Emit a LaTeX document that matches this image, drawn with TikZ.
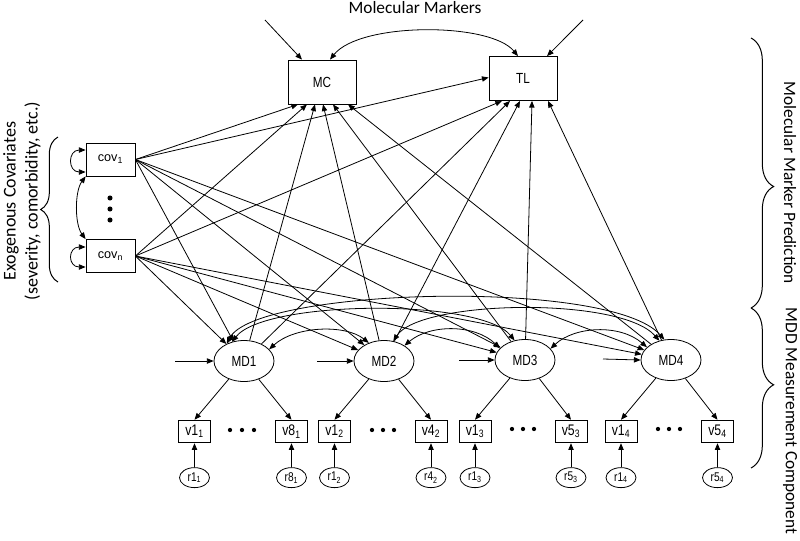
\documentclass[tikz,border=0pt]{standalone}
\usepackage{fontspec}
\setmainfont{Liberation Sans}
\newfontfamily\narrowfont[FakeStretch=0.8]{Liberation Sans}
\newfontfamily\calfont{Carlito}
\usetikzlibrary{arrows.meta,positioning,calc,shapes.geometric,decorations.pathreplacing}

\begin{document}
\begin{tikzpicture}[x=0.75pt,y=-0.75pt,line width=0.6pt,>={Triangle[length=5pt,width=4pt]},
 markerbox/.style={draw,minimum width=51pt,minimum height=33pt,font=\narrowfont\fontsize{11}{13}\selectfont},
 covbox/.style={draw,minimum width=36.75pt,minimum height=24.75pt,font=\fontsize{9.5}{11}\selectfont},
 mdnode/.style={draw,ellipse,inner sep=0pt,minimum width=45pt,minimum height=30.75pt,font=\narrowfont\fontsize{11}{13}\selectfont},
 itembox/.style={draw,inner sep=1pt,minimum width=24pt,minimum height=17pt,font=\narrowfont\fontsize{11.5}{13}\selectfont},
 errnode/.style={draw,ellipse,inner sep=0pt,minimum width=22.5pt,minimum height=15pt,font=\narrowfont\fontsize{9.5}{10}\selectfont},
 sidelabel/.style={font=\calfont\fontsize{13}{16.5}\selectfont,align=center},
 brace/.style={decorate,decoration={brace,amplitude=#1},line width=0.75pt}]
\useasboundingbox (0,0) rectangle (800,540);

% markers
\node[markerbox] (MC) at (322,82) {MC};
\node[markerbox] (TL) at (523,78.5) {TL};
\node[sidelabel] (title) at (415,8) {Molecular Markers};

% covariates
\node[covbox] (cov1) at (110.5,159.5) {cov\textsubscript{1}};
\node[covbox] (covn) at (110.5,256) {cov\textsubscript{n}};
\fill (110,198) circle[radius=1.9pt] (110,209) circle[radius=1.9pt] (110,220) circle[radius=1.9pt];

% MDD factors
\node[mdnode] (MD1) at (244,361) {MD1};
\node[mdnode] (MD2) at (384,361) {MD2};
\node[mdnode] (MD3) at (525,360) {MD3};
\node[mdnode] (MD4) at (671,360) {MD4};

% items and residuals
\node[itembox] (v11) at (194.5,431.5) {v1\textsubscript{1}};
\node[itembox] (v81) at (291.5,431.5) {v8\textsubscript{1}};
\node[itembox] (v12) at (334.5,431.5) {v1\textsubscript{2}};
\node[itembox] (v42) at (431,431.5) {v4\textsubscript{2}};
\node[itembox] (v13) at (475,431.5) {v1\textsubscript{3}};
\node[itembox] (v53) at (571,431.5) {v5\textsubscript{3}};
\node[itembox] (v14) at (621,431.5) {v1\textsubscript{4}};
\node[itembox] (v54) at (717.5,431.5) {v5\textsubscript{4}};
\node[errnode,below=18pt of v11] (r11) {r1\textsubscript{1}};
\node[errnode,below=18pt of v81] (r81) {r8\textsubscript{1}};
\node[errnode,below=18pt of v12] (r12) {r1\textsubscript{2}};
\node[errnode,below=18pt of v42] (r42) {r4\textsubscript{2}};
\node[errnode,below=18pt of v13] (r13) {r1\textsubscript{3}};
\node[errnode,below=18pt of v53] (r53) {r5\textsubscript{3}};
\node[errnode,below=18pt of v14] (r14) {r1\textsubscript{4}};
\node[errnode,below=18pt of v54] (r54) {r5\textsubscript{4}};
\fill (230,430) circle[radius=1.6pt] (242,430) circle[radius=1.6pt] (254,430) circle[radius=1.6pt];
\fill (372,430) circle[radius=1.6pt] (383,430) circle[radius=1.6pt] (394,430) circle[radius=1.6pt];
\fill (512,429) circle[radius=1.6pt] (523,429) circle[radius=1.6pt] (534,429) circle[radius=1.6pt];
\fill (658,429) circle[radius=1.6pt] (669,429) circle[radius=1.6pt] (680,429) circle[radius=1.6pt];

% side labels and braces
\node[sidelabel,rotate=90,font=\calfont\fontsize{13.5}{16.5}\selectfont] (exo) at (22,201) {Exogenous Covariates\\(severity, comorbidity, etc.)};
\node[sidelabel,rotate=-90] (mmp) at (790,183) {Molecular Marker Prediction};
\node[sidelabel,rotate=-90] (mdd) at (790,421) {MDD Measurement Component};
\draw[brace=13pt] (58,282) -- (58,137);
\draw[brace=17pt,decoration={aspect=0.55}] (751,38) -- (751,308);
\draw[brace=17pt,decoration={aspect=0.48}] (751,308) -- (751,468);

% disturbances
\coordinate (mcsrc) at (265,20);
\coordinate (tlsrc) at (583,20);
\coordinate (d1) at (175,361);
\coordinate (d2) at (317,361);
\coordinate (d3) at (459,360);
\coordinate (d4) at (603,359);
\draw[->] (mcsrc) -- ($(MC.north)+(-20,0)$);
\draw[->] (tlsrc) -- ($(TL.north)+(24,0)$);
\draw[->] (d1) -- (MD1.west);
\draw[->] (d2) -- (MD2.west);
\draw[->] (d3) -- (MD3.west);
\draw[->] (d4) -- (MD4.west);

% covariances
\draw[<->] ($(MC.north)+(8,0)$) .. controls (360,22) and (490,22) .. ($(TL.north)+(-5,0)$);
\draw[<->] ($(cov1.west)+(0,-9.5)$) .. controls +(-18,0) and +(-18,0) .. ($(cov1.west)+(0,12.5)$);
\draw[<->] ($(covn.west)+(0,-9)$) .. controls +(-18,0) and +(-18,0) .. ($(covn.west)+(0,11)$);
\draw[<->] (cov1.south west) .. controls +(-11,15) and +(-11,-15) .. (covn.north west);
\draw[<->] (MD1.25) .. controls (295,326) and (345,324) .. (MD2.130);
\draw[<->] (MD2.37) .. controls (430,324) and (475,324) .. (MD3.155);
\draw[<->] (MD3.24) .. controls (575,326) and (620,324) .. (MD4.152);
\draw[<->] (MD1.122) .. controls (265,300) and (480,298) .. (MD3.118);
\draw[<->] (MD1.135) .. controls (255,288) and (610,278) .. (MD4.108);
\draw[<->] (MD2.65) .. controls (420,300) and (620,296) .. (MD4.121);

% covariates to markers and factors
\draw[->] (cov1.east) -- ($(MC.south)+(-24,0)$);
\draw[->] (covn.east) -- ($(MC.south)+(-15,0)$);
\draw[->] (cov1.east) -- ($(TL.west)+(0,-1)$);
\draw[->] (covn.east) -- ($(TL.south)+(-21,0)$);
\draw[->] (cov1.east) -- (MD1);
\draw[->] (cov1.east) -- (MD2);
\draw[->] (cov1.east) -- (MD3);
\draw[->] (cov1.east) -- (MD4);
\draw[->] (covn.east) -- (MD1);
\draw[->] (covn.east) -- (MD2);
\draw[->] (covn.east) -- (MD3);
\draw[->] (covn.east) -- (MD4);

% factors to markers
\draw[->] (MD1) -- ($(MC.south)+(-7,0)$);
\draw[->] (MD2) -- ($(MC.south)+(1,0)$);
\draw[->] (MD3) -- ($(MC.south)+(11,0)$);
\draw[->] (MD4) -- ($(MC.south)+(26,0)$);
\draw[->] (MD1) -- ($(TL.south)+(-13,0)$);
\draw[->] (MD2) -- ($(TL.south)+(-3,0)$);
\draw[->] (MD3) -- ($(TL.south)+(9,0)$);
\draw[->] (MD4) -- ($(TL.south)+(25,0)$);

% measurement part
\draw[->] (MD1) -- (v11.north);
\draw[->] (MD1) -- (v81.north);
\draw[->] (MD2) -- (v12.north);
\draw[->] (MD2) -- (v42.north);
\draw[->] (MD3) -- (v13.north);
\draw[->] (MD3) -- (v53.north);
\draw[->] (MD4) -- (v14.north);
\draw[->] (MD4) -- (v54.north);
\draw[->] (r11) -- (v11);
\draw[->] (r81) -- (v81);
\draw[->] (r12) -- (v12);
\draw[->] (r42) -- (v42);
\draw[->] (r13) -- (v13);
\draw[->] (r53) -- (v53);
\draw[->] (r14) -- (v14);
\draw[->] (r54) -- (v54);
\end{tikzpicture}
\end{document}
